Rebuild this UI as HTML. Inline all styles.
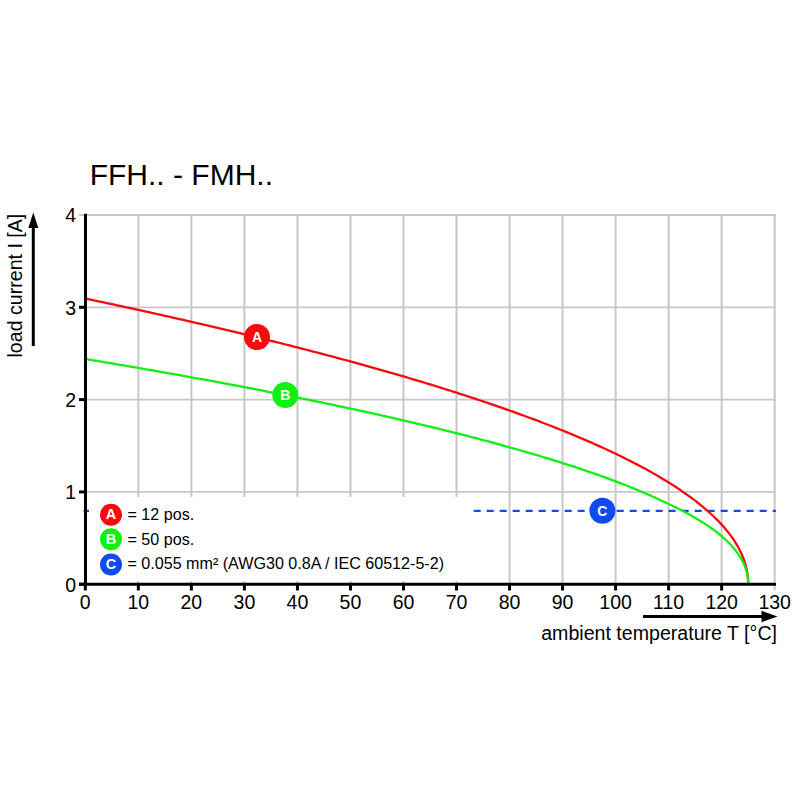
<!DOCTYPE html>
<html><head><meta charset="utf-8"><style>
html,body{margin:0;padding:0;background:#fff;}
svg{position:absolute;left:0;top:0;}
text{font-family:"Liberation Sans",sans-serif;}
</style></head><body>
<svg width="800" height="800" viewBox="0 0 800 800">
<text x="89.7" y="185" font-size="30" fill="#000">FFH.. - FMH..</text>
<g stroke="#c8c8c8" stroke-width="2"><line x1="138.33" y1="214" x2="138.33" y2="584" /><line x1="191.36" y1="214" x2="191.36" y2="584" /><line x1="244.39" y1="214" x2="244.39" y2="584" /><line x1="297.42" y1="214" x2="297.42" y2="584" /><line x1="350.45" y1="214" x2="350.45" y2="584" /><line x1="403.48" y1="214" x2="403.48" y2="584" /><line x1="456.51" y1="214" x2="456.51" y2="584" /><line x1="509.54" y1="214" x2="509.54" y2="584" /><line x1="562.57" y1="214" x2="562.57" y2="584" /><line x1="615.60" y1="214" x2="615.60" y2="584" /><line x1="668.63" y1="214" x2="668.63" y2="584" /><line x1="721.66" y1="214" x2="721.66" y2="584" /><line x1="774.69" y1="214" x2="774.69" y2="590.5" /><line x1="85" y1="491.90" x2="776" y2="491.90" stroke-width="1.8" /><line x1="85" y1="399.60" x2="776" y2="399.60" stroke-width="1.8" /><line x1="85" y1="307.30" x2="776" y2="307.30" stroke-width="1.8" /><line x1="79" y1="215.00" x2="776" y2="215.00" stroke-width="1.8" /></g>
<line x1="83.7" y1="510.8" x2="776" y2="510.8" stroke="#0f4bee" stroke-width="2.2" stroke-dasharray="7 6"/>
<rect x="89" y="497" width="384" height="84" fill="#fff"/>
<path d="M85.30,298.53 L87.95,299.09 L90.60,299.65 L93.25,300.21 L95.91,300.77 L98.56,301.33 L101.21,301.89 L103.86,302.46 L106.51,303.02 L109.16,303.59 L111.81,304.15 L114.47,304.72 L117.12,305.29 L119.77,305.86 L122.42,306.44 L125.07,307.01 L127.72,307.59 L130.38,308.16 L133.03,308.74 L135.68,309.32 L138.33,309.90 L140.98,310.48 L143.63,311.06 L146.28,311.65 L148.94,312.23 L151.59,312.82 L154.24,313.41 L156.89,314.00 L159.54,314.59 L162.19,315.18 L164.84,315.77 L167.50,316.37 L170.15,316.96 L172.80,317.56 L175.45,318.16 L178.10,318.76 L180.75,319.36 L183.41,319.97 L186.06,320.57 L188.71,321.18 L191.36,321.79 L194.01,322.40 L196.66,323.01 L199.31,323.62 L201.97,324.23 L204.62,324.85 L207.27,325.46 L209.92,326.08 L212.57,326.70 L215.22,327.32 L217.88,327.95 L220.53,328.57 L223.18,329.20 L225.83,329.83 L228.48,330.46 L231.13,331.09 L233.78,331.72 L236.44,332.36 L239.09,332.99 L241.74,333.63 L244.39,334.27 L247.04,334.91 L249.69,335.55 L252.34,336.20 L255.00,336.85 L257.65,337.49 L260.30,338.15 L262.95,338.80 L265.60,339.45 L268.25,340.11 L270.90,340.76 L273.56,341.42 L276.21,342.09 L278.86,342.75 L281.51,343.41 L284.16,344.08 L286.81,344.75 L289.47,345.42 L292.12,346.10 L294.77,346.77 L297.42,347.45 L300.07,348.13 L302.72,348.81 L305.37,349.49 L308.03,350.18 L310.68,350.86 L313.33,351.55 L315.98,352.25 L318.63,352.94 L321.28,353.64 L323.94,354.34 L326.59,355.04 L329.24,355.74 L331.89,356.44 L334.54,357.15 L337.19,357.86 L339.84,358.57 L342.50,359.29 L345.15,360.01 L347.80,360.73 L350.45,361.45 L353.10,362.17 L355.75,362.90 L358.40,363.63 L361.06,364.36 L363.71,365.10 L366.36,365.83 L369.01,366.57 L371.66,367.31 L374.31,368.06 L376.97,368.81 L379.62,369.56 L382.27,370.31 L384.92,371.07 L387.57,371.83 L390.22,372.59 L392.87,373.35 L395.53,374.12 L398.18,374.89 L400.83,375.67 L403.48,376.44 L406.13,377.22 L408.78,378.01 L411.43,378.79 L414.09,379.58 L416.74,380.37 L419.39,381.17 L422.04,381.97 L424.69,382.77 L427.34,383.58 L430.00,384.39 L432.65,385.20 L435.30,386.01 L437.95,386.83 L440.60,387.66 L443.25,388.48 L445.90,389.32 L448.56,390.15 L451.21,390.99 L453.86,391.83 L456.51,392.68 L459.16,393.53 L461.81,394.38 L464.46,395.24 L467.12,396.10 L469.77,396.97 L472.42,397.84 L475.07,398.71 L477.72,399.59 L480.37,400.47 L483.03,401.36 L485.68,402.26 L488.33,403.15 L490.98,404.05 L493.63,404.96 L496.28,405.87 L498.93,406.79 L501.59,407.71 L504.24,408.64 L506.89,409.57 L509.54,410.51 L512.19,411.45 L514.84,412.40 L517.49,413.35 L520.15,414.31 L522.80,415.28 L525.45,416.25 L528.10,417.22 L530.75,418.21 L533.40,419.19 L536.05,420.19 L538.71,421.19 L541.36,422.20 L544.01,423.21 L546.66,424.24 L549.31,425.26 L551.96,426.30 L554.62,427.34 L557.27,428.39 L559.92,429.45 L562.57,430.52 L565.22,431.59 L567.87,432.67 L570.52,433.76 L573.18,434.86 L575.83,435.96 L578.48,437.08 L581.13,438.20 L583.78,439.34 L586.43,440.48 L589.08,441.63 L591.74,442.79 L594.39,443.97 L597.04,445.15 L599.69,446.34 L602.34,447.55 L604.99,448.76 L607.65,449.99 L610.30,451.23 L612.95,452.48 L615.60,453.74 L618.25,455.02 L620.90,456.31 L623.55,457.62 L626.21,458.94 L628.86,460.27 L631.51,461.62 L634.16,462.98 L636.81,464.36 L639.46,465.76 L642.11,467.18 L644.77,468.61 L647.42,470.06 L650.07,471.54 L652.72,473.03 L655.37,474.55 L658.02,476.08 L660.68,477.64 L663.33,479.23 L665.98,480.84 L668.63,482.48 L671.28,484.14 L673.93,485.84 L676.58,487.56 L679.24,489.32 L681.89,491.12 L684.54,492.95 L687.19,494.82 L689.84,496.74 L692.49,498.70 L695.14,500.70 L697.80,502.76 L700.45,504.88 L703.10,507.06 L705.75,509.30 L708.40,511.62 L711.05,514.02 L713.71,516.51 L716.36,519.09 L719.01,521.79 L721.66,524.62 L722.99,526.09 L724.31,527.60 L725.64,529.16 L726.96,530.76 L728.29,532.41 L729.61,534.12 L730.94,535.90 L732.27,537.75 L733.59,539.67 L734.92,541.69 L736.24,543.82 L737.57,546.07 L738.89,548.47 L740.22,551.05 L741.55,553.87 L742.87,556.99 L744.20,560.55 L745.52,564.79 L746.85,570.35 L747.11,571.78 L747.43,573.76 L747.66,575.42 L747.81,576.82 L747.92,578.00 L748.00,578.99 L748.05,579.82 L748.09,580.52 L748.11,581.10 L748.13,581.60 L748.15,582.01 L748.15,582.36 L748.17,584.20" fill="none" stroke="#f80a0f" stroke-width="2.3"/>
<path d="M85.30,358.99 L87.95,359.43 L90.60,359.87 L93.25,360.31 L95.91,360.75 L98.56,361.19 L101.21,361.64 L103.86,362.08 L106.51,362.53 L109.16,362.97 L111.81,363.42 L114.47,363.87 L117.12,364.32 L119.77,364.77 L122.42,365.22 L125.07,365.67 L127.72,366.13 L130.38,366.58 L133.03,367.04 L135.68,367.49 L138.33,367.95 L140.98,368.41 L143.63,368.87 L146.28,369.33 L148.94,369.79 L151.59,370.25 L154.24,370.72 L156.89,371.18 L159.54,371.65 L162.19,372.11 L164.84,372.58 L167.50,373.05 L170.15,373.52 L172.80,373.99 L175.45,374.46 L178.10,374.94 L180.75,375.41 L183.41,375.89 L186.06,376.36 L188.71,376.84 L191.36,377.32 L194.01,377.80 L196.66,378.28 L199.31,378.77 L201.97,379.25 L204.62,379.74 L207.27,380.22 L209.92,380.71 L212.57,381.20 L215.22,381.69 L217.88,382.18 L220.53,382.67 L223.18,383.17 L225.83,383.66 L228.48,384.16 L231.13,384.65 L233.78,385.15 L236.44,385.65 L239.09,386.16 L241.74,386.66 L244.39,387.16 L247.04,387.67 L249.69,388.18 L252.34,388.68 L255.00,389.19 L257.65,389.71 L260.30,390.22 L262.95,390.73 L265.60,391.25 L268.25,391.76 L270.90,392.28 L273.56,392.80 L276.21,393.32 L278.86,393.85 L281.51,394.37 L284.16,394.90 L286.81,395.43 L289.47,395.96 L292.12,396.49 L294.77,397.02 L297.42,397.55 L300.07,398.09 L302.72,398.62 L305.37,399.16 L308.03,399.70 L310.68,400.25 L313.33,400.79 L315.98,401.34 L318.63,401.88 L321.28,402.43 L323.94,402.98 L326.59,403.53 L329.24,404.09 L331.89,404.64 L334.54,405.20 L337.19,405.76 L339.84,406.32 L342.50,406.89 L345.15,407.45 L347.80,408.02 L350.45,408.59 L353.10,409.16 L355.75,409.73 L358.40,410.31 L361.06,410.89 L363.71,411.46 L366.36,412.05 L369.01,412.63 L371.66,413.21 L374.31,413.80 L376.97,414.39 L379.62,414.98 L382.27,415.58 L384.92,416.17 L387.57,416.77 L390.22,417.37 L392.87,417.98 L395.53,418.58 L398.18,419.19 L400.83,419.80 L403.48,420.41 L406.13,421.03 L408.78,421.64 L411.43,422.26 L414.09,422.88 L416.74,423.51 L419.39,424.14 L422.04,424.77 L424.69,425.40 L427.34,426.03 L430.00,426.67 L432.65,427.31 L435.30,427.96 L437.95,428.60 L440.60,429.25 L443.25,429.90 L445.90,430.56 L448.56,431.22 L451.21,431.88 L453.86,432.54 L456.51,433.21 L459.16,433.88 L461.81,434.55 L464.46,435.23 L467.12,435.91 L469.77,436.59 L472.42,437.28 L475.07,437.97 L477.72,438.66 L480.37,439.36 L483.03,440.06 L485.68,440.76 L488.33,441.47 L490.98,442.18 L493.63,442.89 L496.28,443.61 L498.93,444.34 L501.59,445.06 L504.24,445.79 L506.89,446.53 L509.54,447.27 L512.19,448.01 L514.84,448.76 L517.49,449.51 L520.15,450.26 L522.80,451.03 L525.45,451.79 L528.10,452.56 L530.75,453.34 L533.40,454.12 L536.05,454.90 L538.71,455.69 L541.36,456.48 L544.01,457.28 L546.66,458.09 L549.31,458.90 L551.96,459.72 L554.62,460.54 L557.27,461.37 L559.92,462.20 L562.57,463.04 L565.22,463.89 L567.87,464.74 L570.52,465.60 L573.18,466.46 L575.83,467.34 L578.48,468.21 L581.13,469.10 L583.78,469.99 L586.43,470.89 L589.08,471.80 L591.74,472.72 L594.39,473.64 L597.04,474.58 L599.69,475.52 L602.34,476.47 L604.99,477.42 L607.65,478.39 L610.30,479.37 L612.95,480.36 L615.60,481.35 L618.25,482.36 L620.90,483.38 L623.55,484.41 L626.21,485.45 L628.86,486.50 L631.51,487.56 L634.16,488.64 L636.81,489.72 L639.46,490.83 L642.11,491.94 L644.77,493.07 L647.42,494.22 L650.07,495.38 L652.72,496.56 L655.37,497.75 L658.02,498.96 L660.68,500.19 L663.33,501.44 L665.98,502.71 L668.63,504.00 L671.28,505.26 L673.93,506.54 L676.58,507.85 L679.24,509.18 L681.89,510.54 L684.54,511.92 L687.19,513.34 L689.84,514.80 L692.49,516.29 L695.14,517.82 L697.80,519.39 L700.45,521.00 L703.10,522.67 L705.75,524.39 L708.40,526.17 L711.05,528.01 L713.71,529.93 L716.36,531.93 L719.01,534.02 L721.66,536.21 L722.99,537.36 L724.31,538.53 L725.64,539.74 L726.96,540.99 L728.29,542.28 L729.61,543.62 L730.94,545.02 L732.27,546.47 L733.59,548.01 L734.92,549.62 L736.24,551.32 L737.57,553.13 L738.89,555.05 L740.22,557.13 L741.55,559.39 L742.87,561.91 L744.20,564.78 L745.52,568.21 L746.85,572.72 L747.11,573.89 L747.43,575.51 L747.66,576.87 L747.81,578.02 L747.92,578.99 L748.00,579.81 L748.05,580.50 L748.09,581.08 L748.11,581.57 L748.13,581.98 L748.15,582.33 L748.15,582.63 L748.17,584.20" fill="none" stroke="#12ef12" stroke-width="2.3"/>
<g stroke="#000" stroke-width="3">
<line x1="85.5" y1="213.8" x2="85.5" y2="586" />
<line x1="79" y1="584.3" x2="776" y2="584.3" />
<line x1="85.30" y1="584" x2="85.30" y2="590.5" /><line x1="138.33" y1="584" x2="138.33" y2="590.5" /><line x1="191.36" y1="584" x2="191.36" y2="590.5" /><line x1="244.39" y1="584" x2="244.39" y2="590.5" /><line x1="297.42" y1="584" x2="297.42" y2="590.5" /><line x1="350.45" y1="584" x2="350.45" y2="590.5" /><line x1="403.48" y1="584" x2="403.48" y2="590.5" /><line x1="456.51" y1="584" x2="456.51" y2="590.5" /><line x1="509.54" y1="584" x2="509.54" y2="590.5" /><line x1="562.57" y1="584" x2="562.57" y2="590.5" /><line x1="615.60" y1="584" x2="615.60" y2="590.5" /><line x1="668.63" y1="584" x2="668.63" y2="590.5" /><line x1="721.66" y1="584" x2="721.66" y2="590.5" /><line x1="79" y1="584.20" x2="86" y2="584.20" /><line x1="79" y1="491.90" x2="86" y2="491.90" /><line x1="79" y1="399.60" x2="86" y2="399.60" /><line x1="79" y1="307.30" x2="86" y2="307.30" />
</g>
<g font-size="19.5" fill="#000"><text x="85.30" y="608.5" text-anchor="middle">0</text><text x="138.33" y="608.5" text-anchor="middle">10</text><text x="191.36" y="608.5" text-anchor="middle">20</text><text x="244.39" y="608.5" text-anchor="middle">30</text><text x="297.42" y="608.5" text-anchor="middle">40</text><text x="350.45" y="608.5" text-anchor="middle">50</text><text x="403.48" y="608.5" text-anchor="middle">60</text><text x="456.51" y="608.5" text-anchor="middle">70</text><text x="509.54" y="608.5" text-anchor="middle">80</text><text x="562.57" y="608.5" text-anchor="middle">90</text><text x="615.60" y="608.5" text-anchor="middle">100</text><text x="668.63" y="608.5" text-anchor="middle">110</text><text x="721.66" y="608.5" text-anchor="middle">120</text><text x="774.69" y="608.5" text-anchor="middle">130</text><text x="76" y="591.60" text-anchor="end">0</text><text x="76" y="499.30" text-anchor="end">1</text><text x="76" y="407.00" text-anchor="end">2</text><text x="76" y="314.70" text-anchor="end">3</text><text x="76" y="222.40" text-anchor="end">4</text></g>
<circle cx="257" cy="337" r="13" fill="#f80a0f"/><text x="257" y="342.3" font-size="14" font-weight="bold" text-anchor="middle" fill="#fff">A</text>
<circle cx="285.3" cy="395" r="13" fill="#12ef12"/><text x="285.3" y="400.3" font-size="14" font-weight="bold" text-anchor="middle" fill="#fff">B</text>
<circle cx="602.4" cy="510.8" r="13" fill="#0f4bee"/><text x="602.4" y="516.1" font-size="14" font-weight="bold" text-anchor="middle" fill="#fff">C</text>
<circle cx="111" cy="514.7" r="11" fill="#f80a0f"/><text x="111" y="519.3000000000001" font-size="14.5" font-weight="bold" text-anchor="middle" fill="#fff">A</text>
<circle cx="111" cy="539.3" r="11" fill="#12ef12"/><text x="111" y="543.9" font-size="14.5" font-weight="bold" text-anchor="middle" fill="#fff">B</text>
<circle cx="111" cy="564.5" r="11" fill="#0f4bee"/><text x="111" y="569.1" font-size="14.5" font-weight="bold" text-anchor="middle" fill="#fff">C</text>
<g font-size="16.1" fill="#000">
<text x="127.5" y="519.6">= 12 pos.</text>
<text x="127.5" y="544.6">= 50 pos.</text>
<text x="127.5" y="569.4">= 0.055 mm² (AWG30 0.8A / IEC 60512-5-2)</text>
</g>
<text transform="translate(22,357.5) rotate(-90)" font-size="19.6" fill="#000">load current I [A]</text>
<line x1="33.3" y1="346" x2="33.3" y2="226" stroke="#000" stroke-width="3"/>
<path d="M28.3,228 L33.3,212.5 L38.3,228 Z" fill="#000"/>
<line x1="643" y1="616.5" x2="763" y2="616.5" stroke="#000" stroke-width="3"/>
<path d="M761.5,610.7 L777.5,616.5 L761.5,622.3 Z" fill="#000"/>
<text x="777" y="640" font-size="19.6" text-anchor="end" fill="#000">ambient temperature T [°C]</text>
</svg>
</body></html>
